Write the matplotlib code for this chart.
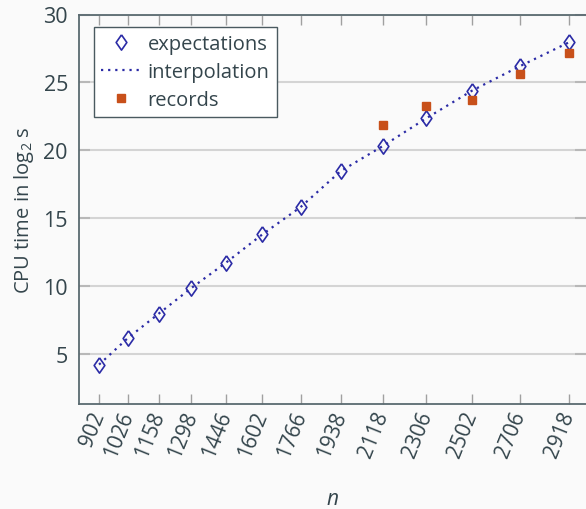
import matplotlib
matplotlib.use("Agg")
import matplotlib.pyplot as plt

n_values = [902, 1026, 1158, 1298, 1446, 1602, 1766, 1938, 2118, 2306, 2502, 2706, 2918]
expectations = [4.23, 6.19, 7.98, 9.87, 11.73, 13.81, 15.82, 18.47, 20.31, 22.37, 24.40, 26.19, 27.96]
record_n = [2118, 2306, 2502, 2706, 2918]
records = [21.87, 23.27, 23.71, 25.65, 27.15]
y_ticks = [5, 10, 15, 20, 25, 30]

txt = "#34454c"
blue = "#2b2ba6"
orange = "#c8501a"
bg = "#fafafa"

plt.rcParams['font.family'] = ['Open Sans', 'DejaVu Sans']
plt.rcParams['mathtext.fontset'] = 'custom'
plt.rcParams['mathtext.rm'] = 'Open Sans'
plt.rcParams['mathtext.it'] = 'Open Sans:italic'

diamond = [(0, 1), (0.7, 0), (0, -1), (-0.7, 0), (0, 1)]

fig = plt.figure(figsize=(5.86, 5.10), dpi=100, facecolor=bg)
ax = fig.add_axes([79/586, 1-404.7/510, 1-79/586, (404.7-15.5)/510])
ax.set_facecolor(bg)

ax.plot(n_values, expectations, linestyle=(0, (1, 2.2)), color=blue, linewidth=1.6,
        label='interpolation', zorder=2)
ax.plot(n_values, expectations, linestyle='none', marker=diamond, markersize=11,
        markerfacecolor='none', markeredgecolor=blue, markeredgewidth=1.2,
        label='expectations', zorder=3)
ax.plot(record_n, records, linestyle='none', marker='s', markersize=6,
        color=orange, label='records', zorder=4)

ax.set_xlim(816, 2990)
ax.set_ylim(1.35, 30)
ax.set_xticks(n_values)
ax.set_xticklabels([str(v) for v in n_values], rotation=68, ha='right', va='center',
                   rotation_mode='anchor')
ax.set_yticks(y_ticks)
ax.grid(axis='y', color='#d4d4d4', linewidth=1.5)
ax.set_axisbelow(True)

ax.tick_params(axis='x', direction='in', top=True, bottom=True, length=7, width=1,
               color='#a0a0a0', labelsize=15, labelcolor=txt, pad=6)
ax.tick_params(axis='y', direction='in', left=True, right=True, length=8, width=1.5,
               color='#b8b8b8', labelsize=15.5, labelcolor=txt, pad=8)

for side in ['left', 'top', 'bottom']:
    ax.spines[side].set_color('#5a6a70')
    ax.spines[side].set_linewidth(1.3)
ax.spines['right'].set_visible(False)

ax.set_ylabel(r'CPU time in log$_2$ s', fontsize=14.5, color=txt, labelpad=5)
ax.set_xlabel(r'$n$', fontsize=15, color=txt, labelpad=20)

handles, labels = ax.get_legend_handles_labels()
order = [1, 0, 2]
leg = ax.legend([handles[i] for i in order], [labels[i] for i in order],
                loc='upper left', bbox_to_anchor=(0.03, 0.967), fontsize=14.5,
                frameon=True, fancybox=False, edgecolor='#4a5a60', facecolor='white',
                framealpha=1, handlelength=2.0, handletextpad=0.3, borderpad=0.35,
                labelspacing=0.38, borderaxespad=0)
leg.get_frame().set_linewidth(1.0)
for t in leg.get_texts():
    t.set_color(txt)

fig.savefig('out.png', dpi=100, facecolor=bg)
